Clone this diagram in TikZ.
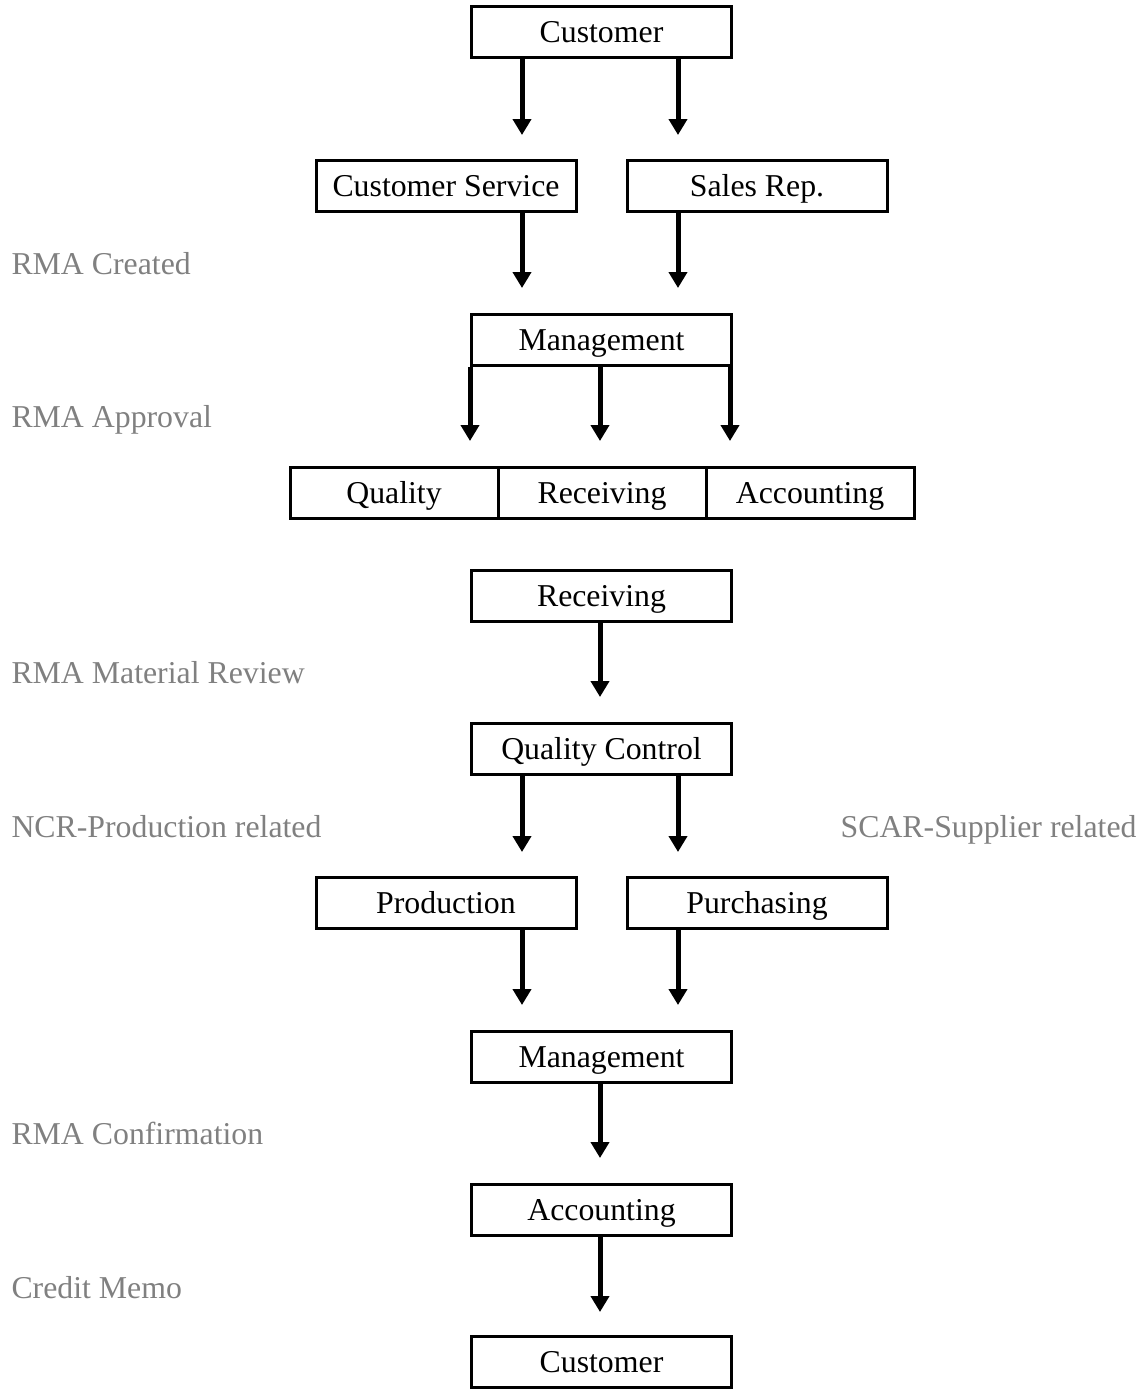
\documentclass[tikz,border=0pt]{standalone}
\usepackage{fontspec}
\setmainfont{Liberation Serif}
\usetikzlibrary{arrows.meta}
\definecolor{notegray}{HTML}{808080}

\begin{document}
\begin{tikzpicture}[x=0.5pt,y=-0.5pt,line width=1.5pt,
  font=\fontsize{15.9}{19}\selectfont,
  box/.style={draw,minimum width=130pt,minimum height=25.5pt,inner sep=0pt,
    text height=12pt,text depth=1.5pt},
  note/.style={text=notegray,inner sep=0pt,anchor=west,
    text height=12.5pt,text depth=1pt},
  flow/.style={line width=2.5pt,-{Triangle[length=8pt,width=9pt]}}]
\useasboundingbox (0,0) rectangle (1144,1389);

\node[box] (cust) at (601.5,31.5) {Customer};
\node[box] (cserv) at (446,186) {Customer Service};
\node[box] (sales) at (757,186) {Sales Rep.};
\node[box] (mgmt) at (601.5,339.5) {Management};
\node[box,minimum width=104pt] (qual) at (394,492.5) {Quality};
\node[box,minimum width=104pt] (recvrow) at (602,492.5) {Receiving};
\node[box,minimum width=104pt] (acctrow) at (810,492.5) {Accounting};
\node[box] (recv) at (601.5,596) {Receiving};
\node[box] (qc) at (601.5,749) {Quality Control};
\node[box] (prod) at (446,903) {Production};
\node[box] (purch) at (757,903) {Purchasing};
\node[box] (mgmtb) at (601.5,1056.5) {Management};
\node[box] (acct) at (601.5,1210) {Accounting};
\node[box] (custb) at (601.5,1362) {Customer};

% stage notes
\node[note] (created) at (10,263) {RMA Created};
\node[note] (approval) at (10,416) {RMA Approval};
\node[note] (review) at (10,672) {RMA Material Review};
\node[note] (ncr) at (10,826) {NCR-Production related};
\node[note,anchor=east] (scar) at (1138,826) {SCAR-Supplier related};
\node[note] (confirm) at (10,1133) {RMA Confirmation};
\node[note] (memo) at (10,1287) {Credit Memo};

% arrow tips
\coordinate (a1) at (522,135);
\coordinate (a2) at (678,135);
\coordinate (b1) at (522,288);
\coordinate (b2) at (678,288);
\coordinate (c1) at (470,441);
\coordinate (c2) at (600,441);
\coordinate (c3) at (730,441);
\coordinate (d1) at (600,697);
\coordinate (e1) at (522,852);
\coordinate (e2) at (678,852);
\coordinate (f1) at (522,1005);
\coordinate (f2) at (678,1005);
\coordinate (g1) at (600,1158);
\coordinate (h1) at (600,1312);

\draw[flow] (cust.south -| a1) -- (a1);
\draw[flow] (cust.south -| a2) -- (a2);
\draw[flow] (cserv.south -| b1) -- (b1);
\draw[flow] (sales.south -| b2) -- (b2);
\draw[flow] (mgmt.south -| c1) -- (c1);
\draw[flow] (mgmt.south -| c2) -- (c2);
\draw[flow] (mgmt.south -| c3) -- (c3);
\draw[flow] (recv.south -| d1) -- (d1);
\draw[flow] (qc.south -| e1) -- (e1);
\draw[flow] (qc.south -| e2) -- (e2);
\draw[flow] (prod.south -| f1) -- (f1);
\draw[flow] (purch.south -| f2) -- (f2);
\draw[flow] (mgmtb.south -| g1) -- (g1);
\draw[flow] (acct.south -| h1) -- (h1);

\end{tikzpicture}
\end{document}
